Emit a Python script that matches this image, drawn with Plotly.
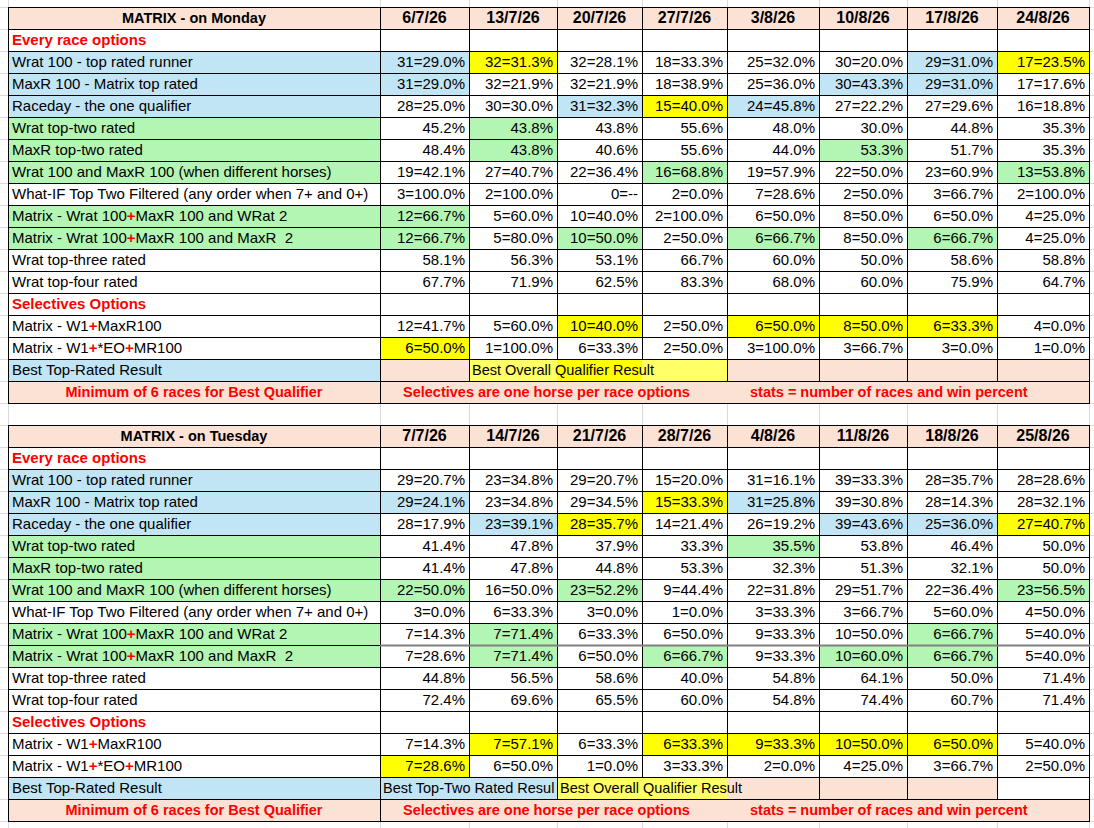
import plotly.graph_objects as go

# ---------------- data ----------------
mon_title = "MATRIX - on Monday"
mon_dates = ["6/7/26", "13/7/26", "20/7/26", "27/7/26", "3/8/26", "10/8/26", "17/8/26", "24/8/26"]
mon_wrat100 = ["31=29.0%", "32=31.3%", "32=28.1%", "18=33.3%", "25=32.0%", "30=20.0%", "29=31.0%", "17=23.5%"]
mon_maxr100 = ["31=29.0%", "32=21.9%", "32=21.9%", "18=38.9%", "25=36.0%", "30=43.3%", "29=31.0%", "17=17.6%"]
mon_raceday = ["28=25.0%", "30=30.0%", "31=32.3%", "15=40.0%", "24=45.8%", "27=22.2%", "27=29.6%", "16=18.8%"]
mon_wrat_top2 = ["45.2%", "43.8%", "43.8%", "55.6%", "48.0%", "30.0%", "44.8%", "35.3%"]
mon_maxr_top2 = ["48.4%", "43.8%", "40.6%", "55.6%", "44.0%", "53.3%", "51.7%", "35.3%"]
mon_wrat_maxr = ["19=42.1%", "27=40.7%", "22=36.4%", "16=68.8%", "19=57.9%", "22=50.0%", "23=60.9%", "13=53.8%"]
mon_whatif = ["3=100.0%", "2=100.0%", "0=--", "2=0.0%", "7=28.6%", "2=50.0%", "3=66.7%", "2=100.0%"]
mon_matrix_w2 = ["12=66.7%", "5=60.0%", "10=40.0%", "2=100.0%", "6=50.0%", "8=50.0%", "6=50.0%", "4=25.0%"]
mon_matrix_m2 = ["12=66.7%", "5=80.0%", "10=50.0%", "2=50.0%", "6=66.7%", "8=50.0%", "6=66.7%", "4=25.0%"]
mon_wrat_top3 = ["58.1%", "56.3%", "53.1%", "66.7%", "60.0%", "50.0%", "58.6%", "58.8%"]
mon_wrat_top4 = ["67.7%", "71.9%", "62.5%", "83.3%", "68.0%", "60.0%", "75.9%", "64.7%"]
mon_w1_maxr = ["12=41.7%", "5=60.0%", "10=40.0%", "2=50.0%", "6=50.0%", "8=50.0%", "6=33.3%", "4=0.0%"]
mon_w1_eo = ["6=50.0%", "1=100.0%", "6=33.3%", "2=50.0%", "3=100.0%", "3=66.7%", "3=0.0%", "1=0.0%"]

tue_title = "MATRIX - on Tuesday"
tue_dates = ["7/7/26", "14/7/26", "21/7/26", "28/7/26", "4/8/26", "11/8/26", "18/8/26", "25/8/26"]
tue_wrat100 = ["29=20.7%", "23=34.8%", "29=20.7%", "15=20.0%", "31=16.1%", "39=33.3%", "28=35.7%", "28=28.6%"]
tue_maxr100 = ["29=24.1%", "23=34.8%", "29=34.5%", "15=33.3%", "31=25.8%", "39=30.8%", "28=14.3%", "28=32.1%"]
tue_raceday = ["28=17.9%", "23=39.1%", "28=35.7%", "14=21.4%", "26=19.2%", "39=43.6%", "25=36.0%", "27=40.7%"]
tue_wrat_top2 = ["41.4%", "47.8%", "37.9%", "33.3%", "35.5%", "53.8%", "46.4%", "50.0%"]
tue_maxr_top2 = ["41.4%", "47.8%", "44.8%", "53.3%", "32.3%", "51.3%", "32.1%", "50.0%"]
tue_wrat_maxr = ["22=50.0%", "16=50.0%", "23=52.2%", "9=44.4%", "22=31.8%", "29=51.7%", "22=36.4%", "23=56.5%"]
tue_whatif = ["3=0.0%", "6=33.3%", "3=0.0%", "1=0.0%", "3=33.3%", "3=66.7%", "5=60.0%", "4=50.0%"]
tue_matrix_w2 = ["7=14.3%", "7=71.4%", "6=33.3%", "6=50.0%", "9=33.3%", "10=50.0%", "6=66.7%", "5=40.0%"]
tue_matrix_m2 = ["7=28.6%", "7=71.4%", "6=50.0%", "6=66.7%", "9=33.3%", "10=60.0%", "6=66.7%", "5=40.0%"]
tue_wrat_top3 = ["44.8%", "56.5%", "58.6%", "40.0%", "54.8%", "64.1%", "50.0%", "71.4%"]
tue_wrat_top4 = ["72.4%", "69.6%", "65.5%", "60.0%", "54.8%", "74.4%", "60.7%", "71.4%"]
tue_w1_maxr = ["7=14.3%", "7=57.1%", "6=33.3%", "6=33.3%", "9=33.3%", "10=50.0%", "6=50.0%", "5=40.0%"]
tue_w1_eo = ["7=28.6%", "6=50.0%", "1=0.0%", "3=33.3%", "2=0.0%", "4=25.0%", "3=66.7%", "2=50.0%"]

row_labels = [
    "Every race options",
    "Wrat 100 - top rated runner",
    "MaxR 100 - Matrix top rated",
    "Raceday - the one qualifier",
    "Wrat top-two rated",
    "MaxR top-two rated",
    "Wrat 100 and MaxR 100 (when different horses)",
    "What-IF Top Two Filtered (any order when 7+ and 0+)",
    "Matrix - Wrat 100+MaxR 100 and WRat 2",
    "Matrix - Wrat 100+MaxR 100 and MaxR\u00a0 2",
    "Wrat top-three rated",
    "Wrat top-four rated",
    "Selectives Options",
    "Matrix - W1+MaxR100",
    "Matrix - W1+*EO+MR100",
    "Best Top-Rated Result",
    "Minimum of 6 races for Best Qualifier",
]
mon_key = ["Best Overall Qualifier Result"]
tue_key = ["Best Top-Two Rated Resul", "Best Overall Qualifier Result"]
footer_notes = ["Selectives are one horse per race options", "stats = number of races and win percent"]

# ---------------- styling ----------------
FONT = "Liberation Sans, Arial, sans-serif"
COLORS = {"w": "#ffffff", "b": "#c1e5f5", "g": "#b3f6b3", "y": "#ffff00",
          "l": "#ffff66", "p": "#fbe2d5"}
COL_X = [8, 380, 469, 557, 642, 727, 819, 907, 997, 1089]
ROW_H = 22
W, H = 1094, 828

# cell colours, one string per row (label column + 8 date columns)
mon_fill = ["ppppppppp", "wwwwwwwww", "bbywwwwby", "bbwwwwbbw", "bwwbybwww",
            "gwgwwwwww", "gwgwwwgww", "gwwwgwwwg", "wwwwwwwww", "ggwwwwwww",
            "ggwgwgwgw", "wwwwwwwww", "wwwwwwwww", "wwwwwwwww", "wwwywyyyw",
            "wywwwwwww", "bplylpppp", "ppppppppp"]
tue_fill = ["ppppppppp", "wwwwwwwww", "bwwwwwwww", "bbwwybwww", "bwbywwbby",
            "gwwwwgwww", "gwwwwwwww", "ggwgwwwwg", "wwwwwwwww", "gwgwwwwgw",
            "gwgwgwggw", "wwwwwwwww", "wwwwwwwww", "wwwwwwwww", "wwywyyyyw",
            "wywwwwwww", "bbbllpppw", "ppppppppp"]
# vertical cell borders hidden where text runs across cells
mon_nolines = {16: [3, 4], 17: [2, 3, 4, 5, 6, 7, 8]}
tue_nolines = {16: [2, 4, 5], 17: [2, 3, 4, 5, 6, 7, 8]}
mon_key_cols = [2]
tue_key_cols = [1, 3]
RED_PLUS_ROWS = [8, 9, 13, 14]


def red_bold(s):
    return "<b><span style='color:#ff0000'>" + s + "</span></b>"


def label_markup(i, s):
    if i in (0, 12):
        return red_bold(s)
    if i in RED_PLUS_ROWS:
        return s.replace("+", "<b><span style='color:#ff0000'>+</span></b>")
    return s


fig = go.Figure()
shapes = []

# faint spreadsheet grid behind everything
grid = ""
y = 7 - ROW_H
while y < H + ROW_H:
    grid += f"M0,{y + 0.5} L{W},{y + 0.5} "
    y += ROW_H
for x in COL_X:
    grid += f"M{x + 0.5},0 L{x + 0.5},{H} "
shapes.append(dict(type="path", path=grid, line=dict(color="#dadada", width=1), layer="below"))


def add_table(top, title, dates, values, fills, nolines, key_texts, key_cols):
    left_x, left_y, left_t = [], [], []
    right_x, right_y, right_t = [], [], []
    mid_x, mid_y, mid_t = [], [], []
    head_x, head_y, head_t = [], [], []
    key_x, key_y, key_t = [], [], []
    nrows = len(fills)

    for r, row in enumerate(fills):
        for c, code in enumerate(row):
            shapes.append(dict(type="rect", x0=COL_X[c], x1=COL_X[c + 1],
                               y0=top + r * ROW_H, y1=top + (r + 1) * ROW_H,
                               fillcolor=COLORS[code], line=dict(width=0), layer="below"))

    # black cell borders
    path = ""
    for r in range(nrows + 1):
        yy = top + r * ROW_H + 0.5
        path += f"M{COL_X[0]},{yy} L{COL_X[-1] + 1},{yy} "
    for r in range(nrows):
        y0, y1 = top + r * ROW_H, top + (r + 1) * ROW_H + 1
        for k, x in enumerate(COL_X):
            if k in nolines.get(r, []):
                continue
            path += f"M{x + 0.5},{y0} L{x + 0.5},{y1} "
    shapes.append(dict(type="path", path=path, line=dict(color="#000000", width=1), layer="below"))

    def cy(r):
        return top + r * ROW_H + ROW_H / 2 + 1

    # header row
    mid_x.append((COL_X[0] + COL_X[1]) / 2)
    mid_y.append(cy(0))
    mid_t.append("<b>" + title + "</b>")
    for c, d in enumerate(dates):
        head_x.append((COL_X[c + 1] + COL_X[c + 2]) / 2)
        head_y.append(cy(0))
        head_t.append("<b>" + d + "</b>")

    # row labels
    for i, lab in enumerate(row_labels):
        r = i + 1
        if i == 16:
            mid_x.append((COL_X[0] + COL_X[1]) / 2)
            mid_y.append(cy(r))
            mid_t.append(red_bold(lab))
        else:
            left_x.append(COL_X[0] + 4)
            left_y.append(cy(r))
            left_t.append(label_markup(i, lab))

    # values
    for i, vals in values.items():
        for c, v in enumerate(vals):
            right_x.append(COL_X[c + 2] - 4)
            right_y.append(cy(i + 1))
            right_t.append(v)

    # key row
    for c, t in zip(key_cols, key_texts):
        key_x.append(COL_X[c] + 3)
        key_y.append(cy(16))
        key_t.append(t)

    # footer notes
    for c, t in zip([1, 5], footer_notes):
        key_x.append(COL_X[c] + 23)
        key_y.append(cy(17))
        key_t.append(red_bold(t))

    def txt(size):
        return dict(mode="text", hoverinfo="skip", cliponaxis=False,
                    textfont=dict(family=FONT, size=size, color="#000000"))
    fig.add_trace(go.Scatter(x=left_x, y=left_y, text=left_t, textposition="middle right", **txt(15)))
    fig.add_trace(go.Scatter(x=key_x, y=key_y, text=key_t, textposition="middle right", **txt(14.5)))
    fig.add_trace(go.Scatter(x=right_x, y=right_y, text=right_t, textposition="middle left", **txt(15)))
    fig.add_trace(go.Scatter(x=mid_x, y=mid_y, text=mid_t, textposition="middle center", **txt(14.5)))
    fig.add_trace(go.Scatter(x=head_x, y=head_y, text=head_t, textposition="middle center", **txt(16)))


mon_values = {1: mon_wrat100, 2: mon_maxr100, 3: mon_raceday, 4: mon_wrat_top2,
              5: mon_maxr_top2, 6: mon_wrat_maxr, 7: mon_whatif, 8: mon_matrix_w2,
              9: mon_matrix_m2, 10: mon_wrat_top3, 11: mon_wrat_top4,
              13: mon_w1_maxr, 14: mon_w1_eo}
tue_values = {1: tue_wrat100, 2: tue_maxr100, 3: tue_raceday, 4: tue_wrat_top2,
              5: tue_maxr_top2, 6: tue_wrat_maxr, 7: tue_whatif, 8: tue_matrix_w2,
              9: tue_matrix_m2, 10: tue_wrat_top3, 11: tue_wrat_top4,
              13: tue_w1_maxr, 14: tue_w1_eo}

add_table(7, mon_title, mon_dates, mon_values, mon_fill, mon_nolines, mon_key, mon_key_cols)
add_table(425, tue_title, tue_dates, tue_values, tue_fill, tue_nolines, tue_key, tue_key_cols)

# the slightly heavier grey rule in the Tuesday block
shapes.append(dict(type="line", x0=COL_X[1], x1=COL_X[-1] + 1,
                   y0=425 + 10 * ROW_H + 0.5, y1=425 + 10 * ROW_H + 0.5,
                   line=dict(color="#808080", width=2), layer="below"))

fig.update_layout(
    width=W, height=H,
    margin=dict(l=0, r=0, t=0, b=0),
    paper_bgcolor="white", plot_bgcolor="white",
    showlegend=False,
    shapes=shapes,
    xaxis=dict(range=[0, W], visible=False, fixedrange=True),
    yaxis=dict(range=[H, 0], visible=False, fixedrange=True),
)

# drop the browser's default page margin so the sheet sits at the window corner
fig.write_html("out.html", config={"displayModeBar": False},
               post_script="document.body.style.margin='0px';")
